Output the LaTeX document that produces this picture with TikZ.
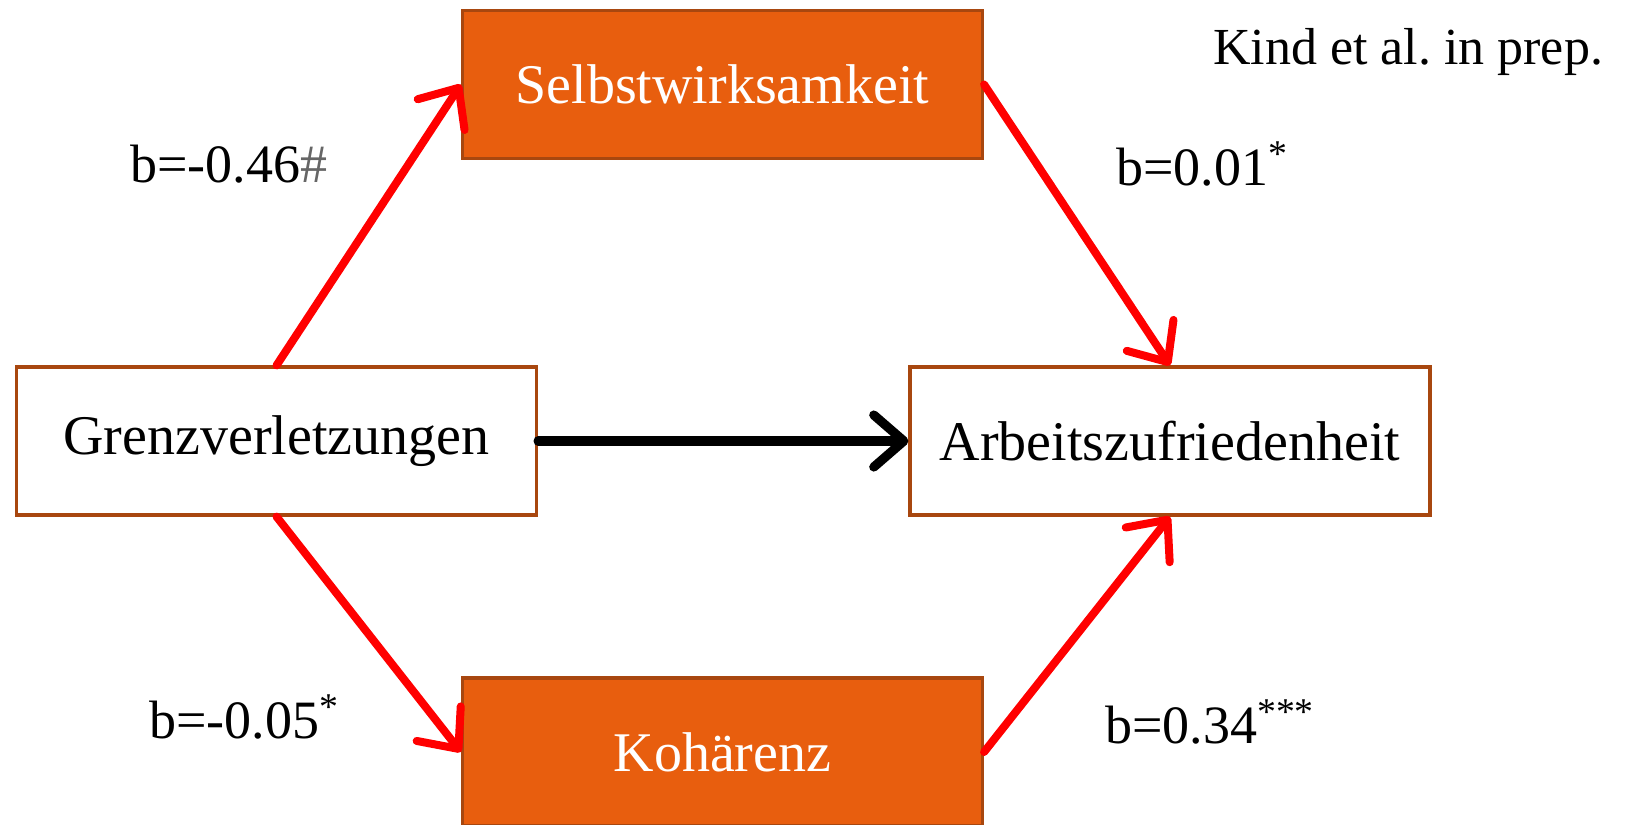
\documentclass[tikz,border=0pt]{standalone}
\usepackage{fontspec}
\setmainfont{Liberation Serif}
\usetikzlibrary{arrows.meta,positioning}
\definecolor{boxorange}{HTML}{E85E0E}
\definecolor{boxedge}{HTML}{A8470F}
\definecolor{arrowred}{HTML}{FF0000}
\tikzstyle{block} = [rectangle, draw=boxedge, line width=1.6pt, fill=white,
      minimum width=260pt, minimum height=74pt, text centered,
      font=\fontsize{28}{33}\selectfont]
\tikzstyle{hot} = [block, fill=boxorange, text=white]
\tikzstyle{line} = [draw=arrowred, line width=4pt, line cap=round,
      -{Straight Barb[length=16pt,width=28pt,round]}]
\tikzstyle{direct} = [draw=black, line width=4.6pt, line cap=round,
      -{Straight Barb[length=15pt,width=26pt,round]}]
\tikzstyle{coef} = [font=\fontsize{27}{32}\selectfont]

\begin{document}
\begin{tikzpicture}[x=0.5pt, y=-0.5pt]
	  \useasboundingbox (0,0) rectangle (1629,825);
	  % Nodes
	  \node [block] (grenz) at (276.5,441) {Grenzverletzungen};
	  \node [block] (arbeit) at (1170,441) {Arbeitszufriedenheit};
	  \node [hot] (selbst) at (722.5,84.5) {Selbstwirksamkeit};
	  \node [hot] (koh) at (722.5,752) {Kohärenz};
	  % Labels
	  \node [coef] (bsg) at (229,164) {b=-0.46{\color{black!60}\#}};
	  \node [coef] (bsa) at (1202,164) {b=0.01\textsuperscript{*}};
	  \node [coef] (bkg) at (244,717) {b=-0.05\textsuperscript{*}};
	  \node [coef] (bka) at (1210,722) {b=0.34\textsuperscript{***}};
	  \node [coef, font=\fontsize{26}{30}\selectfont] (cite) at (1408,52) {Kind et al.\ in prep.};
	  % Pfade
	  \path [line] (grenz.north) -- (selbst.west);
	  \path [line] (selbst.east) -- (arbeit.north);
	  \path [line] (grenz.south) -- (koh.west);
	  \path [line] (koh.east) -- (arbeit.south);
	  \path [direct] (grenz.east) -- (arbeit.west);
\end{tikzpicture}
\end{document}
